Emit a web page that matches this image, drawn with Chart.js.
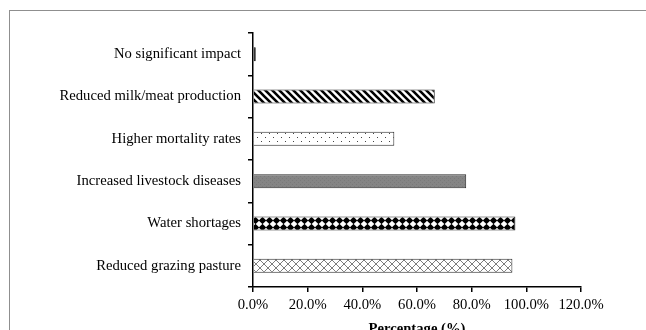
<!DOCTYPE html>
<html>
<head>
<meta charset="utf-8">
<script src="https://cdn.jsdelivr.net/npm/chart.js@4.4.1/dist/chart.umd.min.js"></script>
<style>
  html, body { margin: 0; padding: 0; background: #fff; overflow: hidden; }
  canvas { display: block; }
</style>
</head>
<body>
<canvas id="chart" width="646" height="330"></canvas>
<script>
// Impacts on livestock, share of respondents (%)
const categories = [
  'No significant impact',
  'Reduced milk/meat production',
  'Higher mortality rates',
  'Increased livestock diseases',
  'Water shortages',
  'Reduced grazing pasture'
];
const percentages = [1.0, 66.5, 51.7, 78.0, 96.0, 94.9];
const xTickValues = [0, 20, 40, 60, 80, 100, 120];

// ---- fill patterns, one per bar ----
function makeTile(size, draw) {
  const c = document.createElement('canvas');
  c.width = size; c.height = size;
  const g = c.getContext('2d');
  draw(g, size);
  return document.getElementById('chart').getContext('2d').createPattern(c, 'repeat');
}

// thin diagonal cross-hatch
const crossHatch = makeTile(8, (g, s) => {
  g.fillStyle = '#fff'; g.fillRect(0, 0, s, s);
  g.strokeStyle = '#6e6e6e'; g.lineWidth = 0.9;
  g.beginPath();
  g.moveTo(0, 0); g.lineTo(s, s);
  g.moveTo(s, 0); g.lineTo(0, s);
  g.stroke();
});

// solid black diamonds
const diamonds = makeTile(7, (g, s) => {
  g.fillStyle = '#fff'; g.fillRect(0, 0, s, s);
  g.fillStyle = '#000';
  const h = s / 2, r = 3.7;
  g.beginPath();
  g.moveTo(h, h - r); g.lineTo(h + r, h); g.lineTo(h, h + r); g.lineTo(h - r, h);
  g.closePath(); g.fill();
});

// medium grey
const greyFill = makeTile(4, (g, s) => {
  g.fillStyle = '#858585'; g.fillRect(0, 0, s, s);
  g.fillStyle = '#7a7a7a'; g.fillRect(0, 0, 1, 1); g.fillRect(2, 2, 1, 1);
});

// sparse dots
const dots = makeTile(8, (g, s) => {
  g.fillStyle = '#fff'; g.fillRect(0, 0, s, s);
  g.fillStyle = '#444';
  g.fillRect(1, 1, 1, 1);
  g.fillRect(5, 5, 1, 1);
});

// wide downward diagonal stripes
const stripes = makeTile(7, (g, s) => {
  g.fillStyle = '#fff'; g.fillRect(0, 0, s, s);
  g.strokeStyle = '#000'; g.lineWidth = 2.6;
  g.beginPath();
  for (let k = -1; k <= 1; k++) {
    g.moveTo(k * s - 1, -1); g.lineTo(k * s + s + 1, s + 1);
  }
  g.stroke();
});

const barFills = ['#000000', stripes, dots, greyFill, diamonds, crossHatch];
const barEdges = ['#000000', '#2a2a2a', '#2a2a2a', '#2a2a2a', '#2a2a2a', '#2a2a2a'];

const serif = 'Liberation Serif, "Times New Roman", serif';

// light frame around the figure
const framePlugin = {
  id: 'frame',
  beforeDraw(chart) {
    const ctx = chart.ctx;
    ctx.save();
    ctx.strokeStyle = '#8f8f8f';
    ctx.lineWidth = 1;
    ctx.strokeRect(9.5, 10.5, 700, 400);
    ctx.restore();
  }
};

new Chart(document.getElementById('chart'), {
  type: 'bar',
  data: {
    labels: categories,
    datasets: [{
      data: percentages,
      backgroundColor: barFills,
      borderColor: barEdges,
      borderWidth: 1,
      categoryPercentage: 1,
      barPercentage: 0.33
    }]
  },
  options: {
    indexAxis: 'y',
    responsive: false,
    animation: false,
    devicePixelRatio: 1,
    layout: { padding: { top: 33, right: 65, bottom: 0, left: 0 } },
    plugins: { legend: { display: false }, tooltip: { enabled: false } },
    scales: {
      x: {
        min: 0,
        max: 120,
        afterBuildTicks(scale) { scale.ticks = xTickValues.map(v => ({ value: v })); },
        afterFit(scale) { scale.height = 43; },
        ticks: {
          color: '#000',
          font: { family: serif, size: 14.67 },
          padding: 4,
          maxRotation: 0,
          callback: v => Number(v).toFixed(1) + '%'
        },
        grid: { drawOnChartArea: false, drawTicks: true, tickLength: 5, color: '#000', lineWidth: 1.5 },
        border: { color: '#000', width: 1.5 },
        title: {
          display: true,
          text: 'Percentage (%)',
          color: '#000',
          font: { family: serif, size: 14.67, weight: 'bold' },
          padding: { top: 0, bottom: -8 }
        }
      },
      y: {
        afterFit(scale) { scale.width = 253; },
        ticks: {
          color: '#000',
          font: { family: serif, size: 14.67 },
          padding: 7
        },
        grid: { drawOnChartArea: false, drawTicks: true, tickLength: 5, color: '#000', lineWidth: 1.5 },
        border: { color: '#000', width: 1.5 }
      }
    }
  },
  plugins: [framePlugin]
});
</script>
</body>
</html>
